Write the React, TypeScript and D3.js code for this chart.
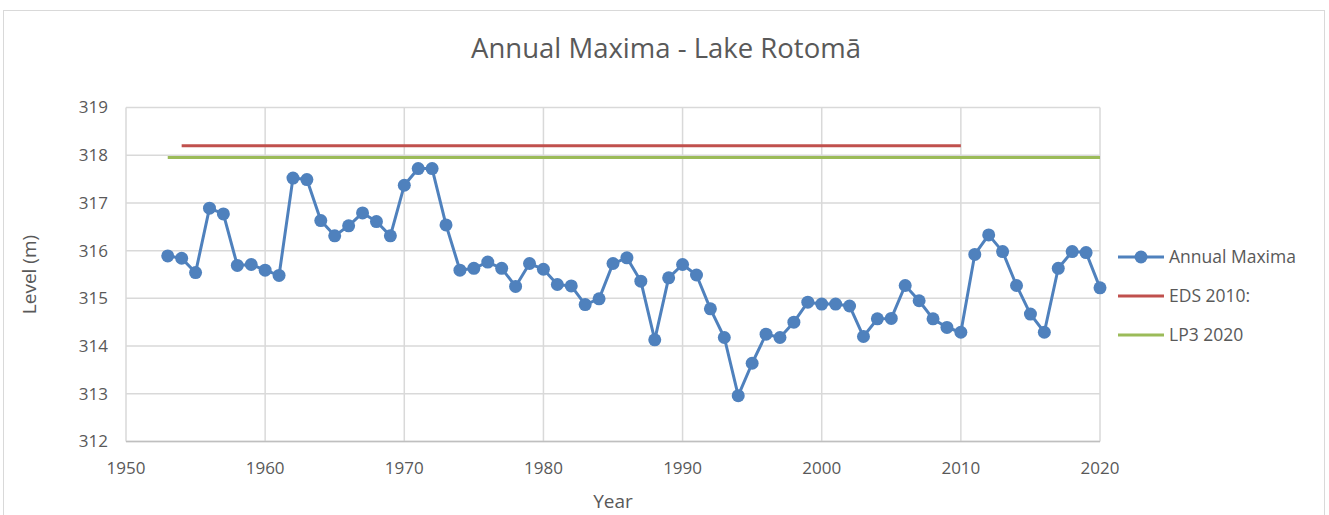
import React from "react";
import * as d3 from "d3";

const years: number[] = [
  1953, 1954, 1955, 1956, 1957, 1958, 1959, 1960, 1961, 1962, 1963, 1964, 1965, 1966, 1967, 1968, 1969,
  1970, 1971, 1972, 1973, 1974, 1975, 1976, 1977, 1978, 1979, 1980, 1981, 1982, 1983, 1984, 1985, 1986,
  1987, 1988, 1989, 1990, 1991, 1992, 1993, 1994, 1995, 1996, 1997, 1998, 1999, 2000, 2001, 2002, 2003,
  2004, 2005, 2006, 2007, 2008, 2009, 2010, 2011, 2012, 2013, 2014, 2015, 2016, 2017, 2018, 2019, 2020,
];
const annualMaxima: number[] = [
  315.89, 315.84, 315.54, 316.89, 316.77, 315.69, 315.71, 315.59, 315.48, 317.52, 317.49, 316.63, 316.31,
  316.52, 316.79, 316.61, 316.31, 317.37, 317.72, 317.72, 316.54, 315.59, 315.63, 315.76, 315.63, 315.25,
  315.73, 315.61, 315.29, 315.26, 314.87, 314.99, 315.73, 315.85, 315.36, 314.13, 315.43, 315.71, 315.49,
  314.78, 314.18, 312.96, 313.64, 314.25, 314.18, 314.5, 314.92, 314.88, 314.88, 314.84, 314.2, 314.57,
  314.58, 315.27, 314.95, 314.57, 314.39, 314.29, 315.92, 316.33, 315.98, 315.27, 314.67, 314.29, 315.63,
  315.98, 315.96, 315.22,
];
const edsYears: number[] = [1954, 2010];
const edsValues: number[] = [318.2, 318.2];
const lp3Years: number[] = [1953, 2020];
const lp3Values: number[] = [317.95, 317.95];
const xTicks: number[] = [1950, 1960, 1970, 1980, 1990, 2000, 2010, 2020];
const yTicks: number[] = [312, 313, 314, 315, 316, 317, 318, 319];
const legendLabels: string[] = ["Annual Maxima", "EDS 2010:", "LP3 2020"];

const W = 1329;
const H = 515;
const FONT = "'Open Sans', sans-serif";
const TXT = "#595959";
const BLUE = "#4f81bd";
const RED = "#c0504d";
const GREEN = "#9bbb59";
const GRID = "#d9d9d9";

export default function App() {
  const x = d3.scaleLinear().domain([1950, 2020]).range([126, 1100]);
  const y = d3.scaleLinear().domain([312, 319]).range([441.5, 107.5]);
  const line = d3
    .line<[number, number]>()
    .x((d) => x(d[0]))
    .y((d) => y(d[1]));
  const pts: [number, number][] = years.map((yr, i) => [yr, annualMaxima[i]]);
  const eds: [number, number][] = edsYears.map((yr, i) => [yr, edsValues[i]]);
  const lp3: [number, number][] = lp3Years.map((yr, i) => [yr, lp3Values[i]]);
  const legendY = [257, 296, 335];
  const legendColors = [BLUE, RED, GREEN];

  return (
    <svg
      width={W}
      height={H}
      style={{ position: "absolute", left: 0, top: 0, background: "#fff" }}
      fontFamily={FONT}
    >
      <rect x={3.5} y={10.5} width={1321} height={520} fill="#fff" stroke="#d9d9d9" strokeWidth={1} />
      <text x={666} y={58} textAnchor="middle" fontSize={27.5} fill={TXT}>
        Annual Maxima - Lake Rotomā
      </text>
      {/* gridlines */}
      {yTicks.map((t) => (
        <line key={"gy" + t} x1={x(1950)} x2={x(2020)} y1={y(t)} y2={y(t)} stroke={GRID} strokeWidth={1.5} />
      ))}
      {xTicks.map((t) => (
        <line key={"gx" + t} x1={x(t)} x2={x(t)} y1={y(319)} y2={y(312)} stroke={GRID} strokeWidth={1.5} />
      ))}
      <line x1={x(1950)} x2={x(2020)} y1={y(312)} y2={y(312)} stroke="#bfbfbf" strokeWidth={1.5} />
      {/* y labels */}
      {yTicks.map((t) => (
        <text key={"ly" + t} x={108} y={y(t)} dy="0.35em" textAnchor="end" fontSize={17} fill={TXT}>
          {t}
        </text>
      ))}
      {xTicks.map((t) => (
        <text key={"lx" + t} x={x(t)} y={474} textAnchor="middle" fontSize={17} fill={TXT}>
          {t}
        </text>
      ))}
      <text x={613} y={508} textAnchor="middle" fontSize={19} fill={TXT}>
        Year
      </text>
      <text
        transform={`translate(36,${(y(312) + y(319)) / 2}) rotate(-90)`}
        textAnchor="middle"
        fontSize={19}
        fill={TXT}
      >
        Level (m)
      </text>
      {/* reference lines */}
      <path d={line(eds) || ""} stroke={RED} strokeWidth={3} fill="none" />
      <path d={line(lp3) || ""} stroke={GREEN} strokeWidth={3} fill="none" />
      {/* series */}
      <path d={line(pts) || ""} stroke={BLUE} strokeWidth={3} fill="none" strokeLinejoin="round" />
      {pts.map((p, i) => (
        <circle key={"c" + i} cx={x(p[0])} cy={y(p[1])} r={6.5} fill={BLUE} />
      ))}
      {/* legend */}
      {legendLabels.map((lab, i) => (
        <g key={"lg" + i}>
          <line x1={1118} x2={1164} y1={legendY[i]} y2={legendY[i]} stroke={legendColors[i]} strokeWidth={3} />
          {i === 0 && <circle cx={1141} cy={legendY[i]} r={6.5} fill={BLUE} />}
          <text x={1169} y={legendY[i]} dy="0.35em" fontSize={17.5} fill={TXT}>
            {lab}
          </text>
        </g>
      ))}
    </svg>
  );
}
